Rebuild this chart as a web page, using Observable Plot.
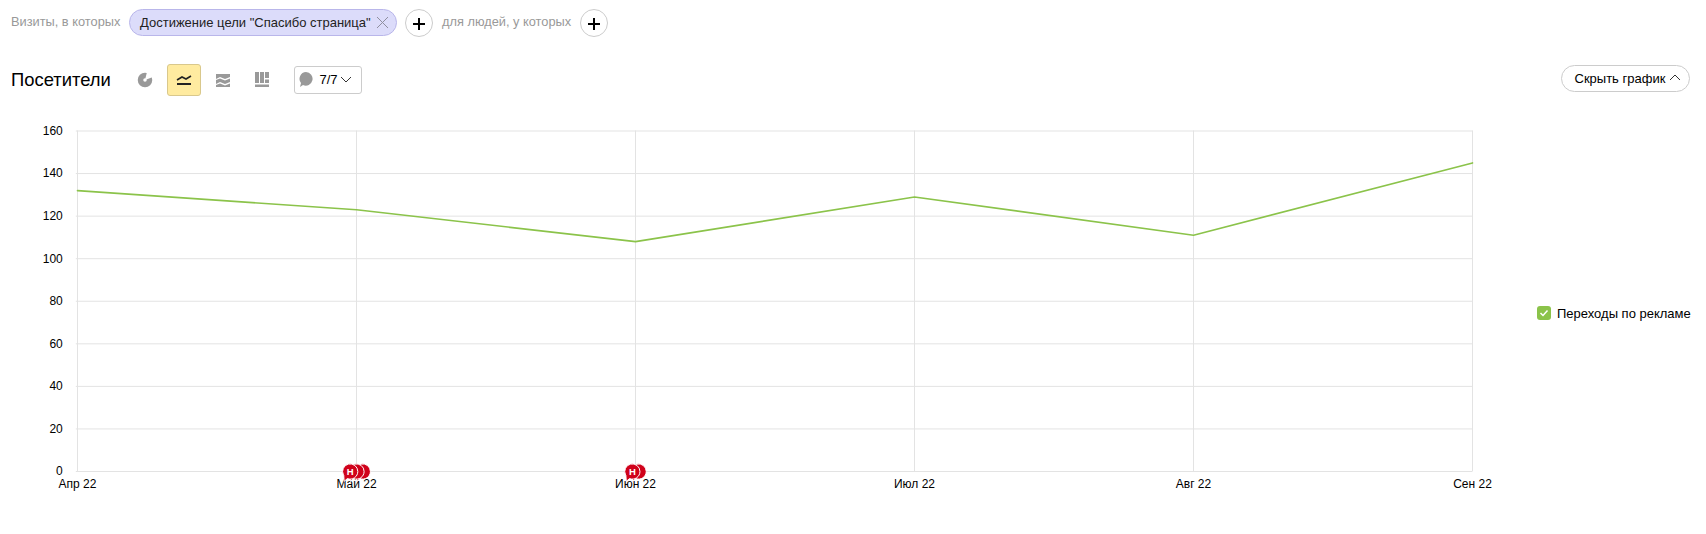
<!DOCTYPE html>
<html><head><meta charset="utf-8">
<script src="https://cdn.jsdelivr.net/npm/d3@7"></script>
<script src="https://cdn.jsdelivr.net/npm/@observablehq/plot@0.6"></script>
<style>
html,body{margin:0;padding:0;background:#fff;width:1706px;height:534px;overflow:hidden;font-family:Arial,"Liberation Sans",sans-serif;color:#000}
.a{position:absolute;white-space:nowrap;line-height:1}
.grey{color:#999;font-size:12.8px}
.plus{position:absolute;box-sizing:border-box;width:28px;height:28px;border:1px solid #ccc;border-radius:50%;background:#fff}
.plus:before,.plus:after{content:"";position:absolute;background:#000}
.plus:before{left:7px;top:12.5px;width:12px;height:2px}
.plus:after{left:12px;top:7.5px;width:2px;height:12px}
#chart{position:absolute;left:0;top:100px}
#chart svg{display:block}
</style></head><body>
<div class="a grey" style="left:11px;top:16px">Визиты, в которых</div>
<div class="a" style="left:129px;top:9px;width:268px;height:27px;box-sizing:border-box;border:1px solid #b9b6ea;border-radius:14px;background:#dcdcfa"></div>
<div class="a" style="left:140px;top:16px;font-size:13px;color:#222">Достижение цели "Спасибо страница"</div>
<svg class="a" style="left:376px;top:16px" width="13" height="13"><path d="M1 1L12 12M12 1L1 12" stroke="#8f8f9f" fill="none"/></svg>
<div class="plus" style="left:405px;top:9px"></div>
<div class="a grey" style="left:442px;top:16px">для людей, у которых</div>
<div class="plus" style="left:580px;top:9px"></div>

<div class="a" style="left:11px;top:71px;font-size:18.4px">Посетители</div>
<svg class="a" style="left:137px;top:72px" width="16" height="16"><circle cx="8" cy="8" r="4.5" fill="none" stroke="#999" stroke-width="5.5"/><path d="M8 8L16 5V0H10Z" fill="#fff"/></svg>
<div class="a" style="left:167px;top:64px;width:34px;height:32px;box-sizing:border-box;border:1px solid #d9c88c;border-radius:3px;background:#ffeba0"></div>
<svg class="a" style="left:176px;top:72px" width="16" height="16"><path d="M1 8L6 5L10 7L15 4" fill="none" stroke="#222" stroke-width="1.6"/><path d="M1 12H15" stroke="#222" stroke-width="2"/></svg>
<svg class="a" style="left:215px;top:72px" width="16" height="16"><path d="M1 2H15V5L10 7L5 5L1 7ZM1 8L5 6.5L10 8.5L15 6.5V10L10 12L5 10L1 12ZM1 13L5 11.5L10 13.5L15 11.5V15H1Z" fill="#999"/></svg>
<svg class="a" style="left:254px;top:71px" width="16" height="17"><path d="M1 1H5V12H1ZM6 1H10V12H6ZM11 1H15V7H11ZM11 8.5H15V12H11ZM1 13.5H15V16H1Z" fill="#999"/></svg>
<div class="a" style="left:294px;top:66px;width:68px;height:28px;box-sizing:border-box;border:1px solid #ccc;border-radius:3px"></div>
<svg class="a" style="left:298px;top:71px" width="16" height="18"><path d="M8 1A6.8 6.8 0 1 1 5 14L2 16L3 12A6.8 6.8 0 0 1 8 1Z" fill="#999"/></svg>
<div class="a" style="left:319.5px;top:73px;font-size:13px">7/7</div>
<svg class="a" style="left:340px;top:76px" width="12" height="8"><path d="M1 1L6 6L11 1" fill="none" stroke="#333"/></svg>

<div class="a" style="left:1561px;top:65px;width:129px;height:27px;box-sizing:border-box;border:1px solid #ccc;border-radius:14px"></div>
<div class="a" style="left:1574.5px;top:72px;font-size:13px">Скрыть график</div>
<svg class="a" style="left:1669px;top:73px" width="12" height="8"><path d="M1 7L6 2L11 7" fill="none" stroke="#333"/></svg>

<div class="a" style="left:1537px;top:306px;width:14px;height:14px;border-radius:3px;background:#8bc34a"></div>
<svg class="a" style="left:1537px;top:306px" width="14" height="14"><path d="M3.5 7L6 9.5L10.5 4.5" fill="none" stroke="#fff" stroke-width="1.5"/></svg>
<div class="a" style="left:1557px;top:307px;font-size:13px">Переходы по рекламе</div>

<div id="chart"></div>
<script>
const months = ["Апр 22","Май 22","Июн 22","Июл 22","Авг 22","Сен 22"];
const visitors = [132,123,108,129,111,145];
const yTicks = [0,20,40,60,80,100,120,140,160];
const noteMonths = ["Май 22","Июн 22"];
const noteCounts = [3,2];
const noteLabel = "Н";

const series = months.map((m,i)=>({month:m,value:visitors[i]}));
const bubble = {draw(c,size){
  const r=Math.sqrt(size/Math.PI);
  c.moveTo(r,0);
  c.arc(0,0,r,0,Math.PI*0.62);
  c.lineTo(-r*0.8,r*1.3);
  c.lineTo(-r*0.85,r*0.5);
  c.arc(0,0,r,Math.PI*0.85,Math.PI*2);
  c.closePath();
}};
const noteMarks = [];
noteMonths.forEach((m,k)=>{
  const n = noteCounts[k];
  for(let i=n-1;i>=0;i--){
    const dx = (i-(n-1)/2)*6.3;
    noteMarks.push(Plot.dot([{month:m,value:0}],{x:"month",y:"value",dx,r:7.6,symbol:bubble,fill:"#d0021b",stroke:"#fff",strokeWidth:1}));
    if(i===0) noteMarks.push(Plot.text([{month:m,value:0}],{x:"month",y:"value",dx,text:()=>noteLabel,fill:"#fff",fontSize:9.5,fontWeight:"bold",fontFamily:"Arial, 'Liberation Sans', sans-serif"}));
  }
});
const plot = Plot.plot({
  width:1706,height:410,
  marginLeft:75.8,marginRight:233.5,marginTop:30.5,marginBottom:39,
  style:{fontFamily:"Arial, 'Liberation Sans', sans-serif",fontSize:"12px",color:"#000",background:"transparent"},
  x:{type:"point",domain:months,padding:0,label:null},
  y:{domain:[0,160],label:null},
  marks:[
    Plot.gridY(yTicks,{stroke:"#e3e3e3",strokeOpacity:1,strokeWidth:1}),
    Plot.gridX(months,{stroke:"#e3e3e3",strokeOpacity:1,strokeWidth:1}),
    Plot.axisY(yTicks,{tickSize:0,tickPadding:13.5,label:null,fill:"#000"}),
    Plot.axisX(months,{tickSize:0,tickPadding:8,label:null,fill:"#000"}),
    Plot.line(series,{x:"month",y:"value",stroke:"#8bc34a",strokeWidth:1.6,curve:"linear"}),
    ...noteMarks
  ]
});
document.getElementById("chart").appendChild(plot);
</script>
</body></html>
